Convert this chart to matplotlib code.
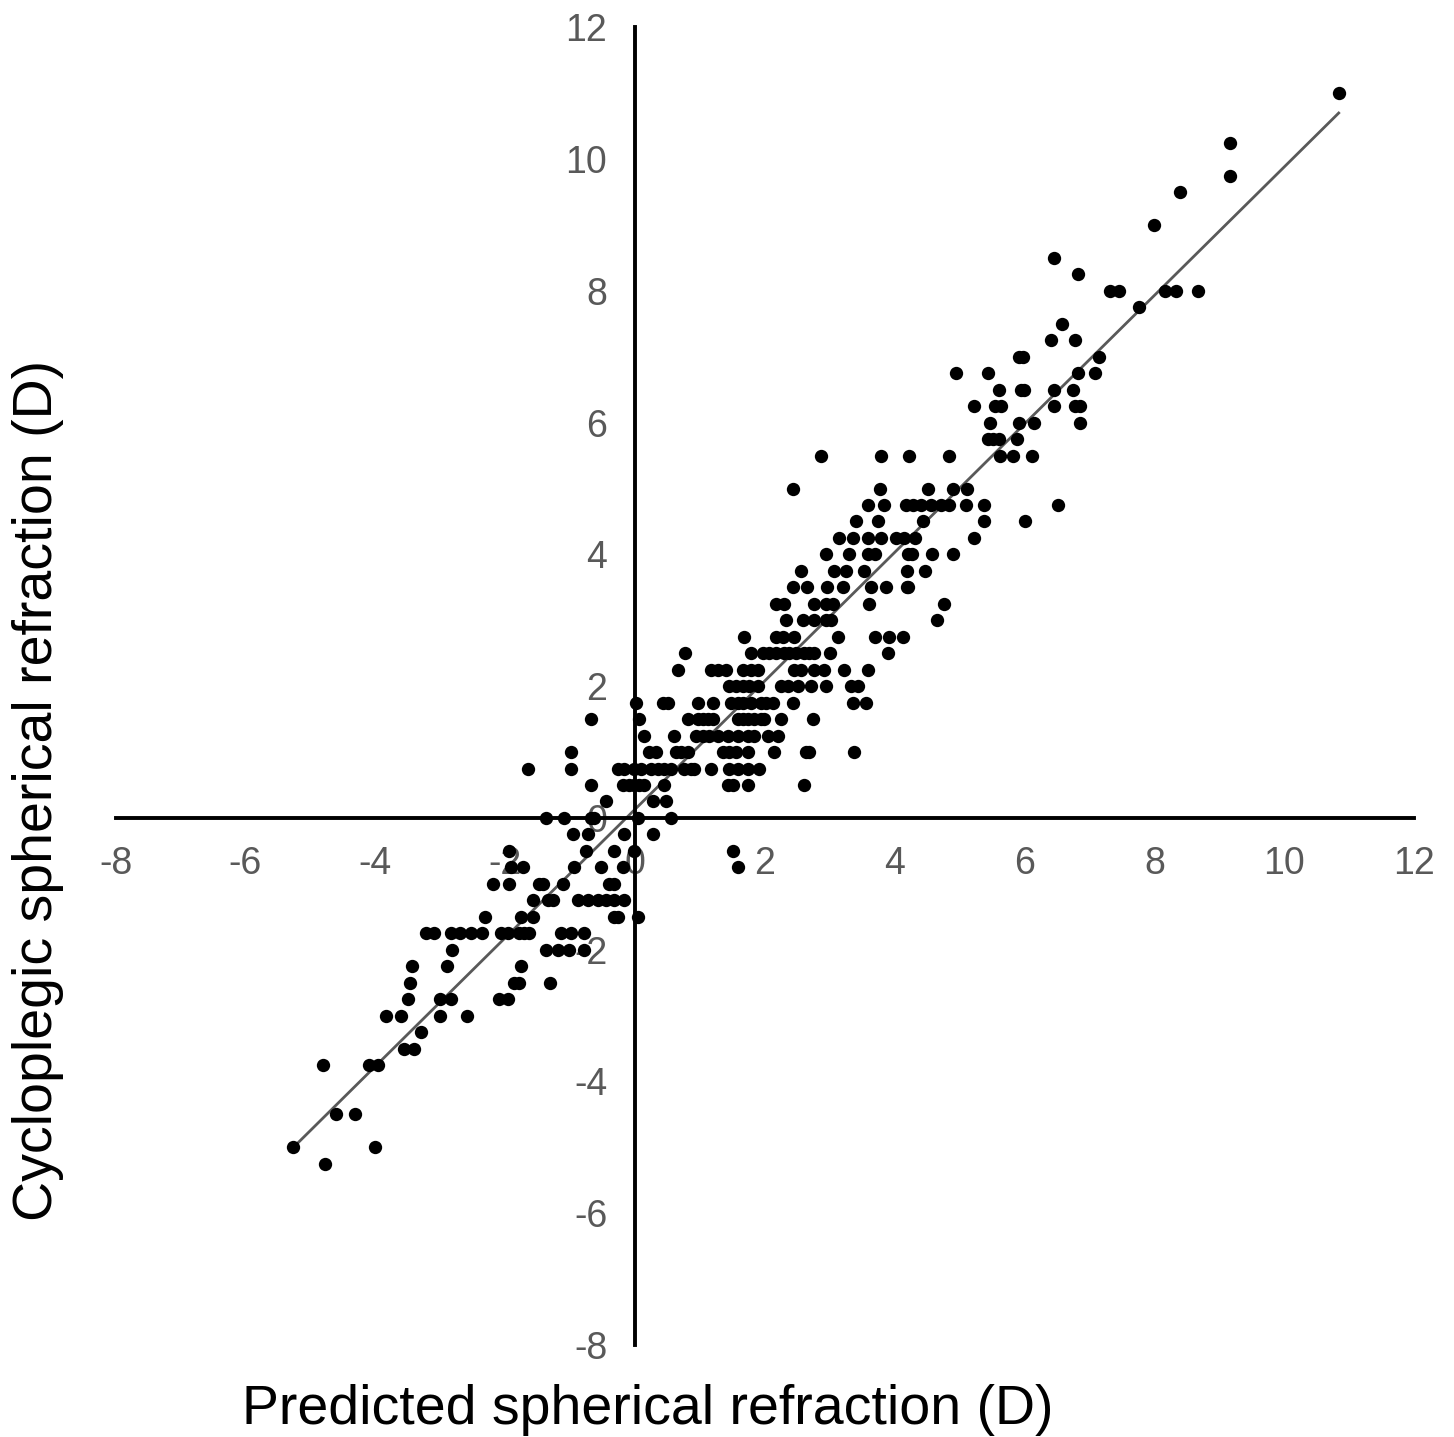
import matplotlib
matplotlib.use("Agg")
import matplotlib.pyplot as plt

# predicted vs cycloplegic spherical refraction (D)
pred = [
    10.84,
    9.16,
    9.16,
    8.40,
    8.00,
    6.46,
    6.83,
    7.31, 7.45, 8.17, 8.34, 8.67,
    7.77,
    6.58,
    6.41, 6.78,
    5.91, 5.98, 7.15,
    4.95, 5.44, 6.83, 7.08,
    5.61, 5.95, 6.00, 6.45, 6.75,
    5.23, 5.54, 5.64, 6.46, 6.78, 6.85,
    5.47, 5.92, 6.14, 6.86,
    5.44, 5.52, 5.60, 5.89,
    2.87, 3.79, 4.22, 4.83, 5.63, 5.83, 6.11,
    2.44, 3.78, 4.52, 4.90, 5.12,
    3.59, 3.84, 4.18, 4.29, 4.41, 4.56, 4.72, 4.83, 5.10, 5.38, 6.52,
    3.41, 3.75, 4.44, 5.38, 6.01,
    3.15, 3.36, 3.59, 3.79, 4.02, 4.15, 4.32, 5.23,
    2.95, 3.30, 3.59, 3.69, 4.21, 4.26, 4.58, 4.90,
    2.56, 3.07, 3.25, 3.53, 4.19, 4.46,
    2.44, 2.65, 2.96, 3.21, 3.64, 3.87, 4.19, 4.21,
    2.17, 2.30, 2.76, 2.95, 3.05, 3.61, 4.76,
    2.33, 2.59, 2.76, 2.95, 3.02, 4.66,
    1.68, 2.17, 2.28, 2.45, 3.13, 3.69, 3.92, 4.13,
    0.77, 1.79, 1.97, 2.07, 2.17, 2.30, 2.37, 2.48, 2.61, 2.68, 2.76, 3.01, 3.89,
    0.66, 1.17, 1.28, 1.40, 1.67, 1.79, 1.90, 2.45, 2.56, 2.76, 2.91, 3.22, 3.59,
    1.45, 1.56, 1.67, 1.76, 1.90, 2.25, 2.36, 2.51, 2.71, 2.95, 3.33, 3.44,
    0.02, 0.43, 0.51, 0.97, 1.20, 1.48, 1.59, 1.67, 1.79, 1.94, 2.02, 2.13, 2.44, 3.36, 3.56,
    -0.68, 0.06, 0.82, 0.97, 1.05, 1.13, 1.20, 1.59, 1.67, 1.74, 1.83, 1.94, 1.99, 2.25, 2.74,
    0.14, 0.60, 0.94, 1.05, 1.14, 1.28, 1.43, 1.59, 1.74, 1.83, 2.05, 2.20,
    -0.99, 0.22, 0.32, 0.63, 0.71, 0.82, 1.36, 1.45, 1.56, 1.74, 2.14, 2.64, 2.68, 3.38,
    -1.65, -0.99, -0.26, -0.17, -0.02, 0.09, 0.25, 0.35, 0.45, 0.55, 0.76, 0.86, 0.91, 1.17, 1.45, 1.59, 1.74, 1.91,
    -0.68, -0.19, -0.09, -0.02, 0.06, 0.14, 0.45, 1.43, 1.51, 1.74, 2.61,
    -0.45, 0.28, 0.48,
    -1.37, -1.09, -0.68, -0.63, 0.05, 0.55,
    -0.96, -0.72, -0.17, 0.28,
    -1.94, -0.76, -0.32, -0.02, 1.51,
    -1.91, -1.73, -0.94, -0.52, -0.19, 1.59,
    -2.19, -1.94, -1.48, -1.42, -1.11, -0.40, -0.32,
    -1.57, -1.34, -1.26, -0.88, -0.72, -0.57, -0.45, -0.32, -0.17,
    -2.31, -1.76, -1.57, -0.32, -0.26, 0.05,
    -3.22, -3.10, -2.84, -2.70, -2.53, -2.36, -2.07, -1.96, -1.79, -1.71, -1.63, -1.14, -0.99, -0.79,
    -2.82, -1.37, -1.19, -1.02, -0.79,
    -3.44, -2.90, -1.76,
    -3.47, -1.87, -1.79, -1.31,
    -3.50, -3.01, -2.84, -2.10, -1.96,
    -3.84, -3.61, -3.01, -2.59,
    -3.30,
    -3.56, -3.41,
    -4.81, -4.10, -3.96,
    -4.60, -4.32,
    -5.26, -4.01,
    -4.78,
]

cyclo = [
    11.0,
    10.25,
    9.75,
    9.5,
    9.0,
    8.5,
    8.25,
    8.0, 8.0, 8.0, 8.0, 8.0,
    7.75,
    7.5,
    7.25, 7.25,
    7.0, 7.0, 7.0,
    6.75, 6.75, 6.75, 6.75,
    6.5, 6.5, 6.5, 6.5, 6.5,
    6.25, 6.25, 6.25, 6.25, 6.25, 6.25,
    6.0, 6.0, 6.0, 6.0,
    5.75, 5.75, 5.75, 5.75,
    5.5, 5.5, 5.5, 5.5, 5.5, 5.5, 5.5,
    5.0, 5.0, 5.0, 5.0, 5.0,
    4.75, 4.75, 4.75, 4.75, 4.75, 4.75, 4.75, 4.75, 4.75, 4.75, 4.75,
    4.5, 4.5, 4.5, 4.5, 4.5,
    4.25, 4.25, 4.25, 4.25, 4.25, 4.25, 4.25, 4.25,
    4.0, 4.0, 4.0, 4.0, 4.0, 4.0, 4.0, 4.0,
    3.75, 3.75, 3.75, 3.75, 3.75, 3.75,
    3.5, 3.5, 3.5, 3.5, 3.5, 3.5, 3.5, 3.5,
    3.25, 3.25, 3.25, 3.25, 3.25, 3.25, 3.25,
    3.0, 3.0, 3.0, 3.0, 3.0, 3.0,
    2.75, 2.75, 2.75, 2.75, 2.75, 2.75, 2.75, 2.75,
    2.5, 2.5, 2.5, 2.5, 2.5, 2.5, 2.5, 2.5, 2.5, 2.5, 2.5, 2.5, 2.5,
    2.25, 2.25, 2.25, 2.25, 2.25, 2.25, 2.25, 2.25, 2.25, 2.25, 2.25, 2.25, 2.25,
    2.0, 2.0, 2.0, 2.0, 2.0, 2.0, 2.0, 2.0, 2.0, 2.0, 2.0, 2.0,
    1.75, 1.75, 1.75, 1.75, 1.75, 1.75, 1.75, 1.75, 1.75, 1.75, 1.75, 1.75, 1.75, 1.75, 1.75,
    1.5, 1.5, 1.5, 1.5, 1.5, 1.5, 1.5, 1.5, 1.5, 1.5, 1.5, 1.5, 1.5, 1.5, 1.5,
    1.25, 1.25, 1.25, 1.25, 1.25, 1.25, 1.25, 1.25, 1.25, 1.25, 1.25, 1.25,
    1.0, 1.0, 1.0, 1.0, 1.0, 1.0, 1.0, 1.0, 1.0, 1.0, 1.0, 1.0, 1.0, 1.0,
    0.75, 0.75, 0.75, 0.75, 0.75, 0.75, 0.75, 0.75, 0.75, 0.75, 0.75, 0.75, 0.75, 0.75, 0.75, 0.75, 0.75, 0.75,
    0.5, 0.5, 0.5, 0.5, 0.5, 0.5, 0.5, 0.5, 0.5, 0.5, 0.5,
    0.25, 0.25, 0.25,
    0.0, 0.0, 0.0, 0.0, 0.0, 0.0,
    -0.25, -0.25, -0.25, -0.25,
    -0.5, -0.5, -0.5, -0.5, -0.5,
    -0.75, -0.75, -0.75, -0.75, -0.75, -0.75,
    -1.0, -1.0, -1.0, -1.0, -1.0, -1.0, -1.0,
    -1.25, -1.25, -1.25, -1.25, -1.25, -1.25, -1.25, -1.25, -1.25,
    -1.5, -1.5, -1.5, -1.5, -1.5, -1.5,
    -1.75, -1.75, -1.75, -1.75, -1.75, -1.75, -1.75, -1.75, -1.75, -1.75, -1.75, -1.75, -1.75, -1.75,
    -2.0, -2.0, -2.0, -2.0, -2.0,
    -2.25, -2.25, -2.25,
    -2.5, -2.5, -2.5, -2.5,
    -2.75, -2.75, -2.75, -2.75, -2.75,
    -3.0, -3.0, -3.0, -3.0,
    -3.25,
    -3.5, -3.5,
    -3.75, -3.75, -3.75,
    -4.5, -4.5,
    -5.0, -5.0,
    -5.25,
]

assert len(pred) == len(cyclo)

# trendline as drawn in the figure
fit_slope = 0.975
fit_intercept = 0.13
ticks = list(range(-8, 13, 2))

plt.rcParams['font.family'] = ['Liberation Sans', 'DejaVu Sans']
plt.rcParams['axes.unicode_minus'] = False

fig = plt.figure(figsize=(14.54, 14.37), dpi=100)
ax = fig.add_axes([0.0795, 0.064, 0.893, 0.917])

ax.scatter(pred, cyclo, s=92, c='black', linewidths=0, zorder=3)

x0, x1 = min(pred), max(pred)
ax.plot([x0, x1], [fit_slope * x0 + fit_intercept, fit_slope * x1 + fit_intercept],
        color='#595959', lw=2.0, zorder=2)

ax.set_xlim(-8, 12)
ax.set_ylim(-8, 12)
ax.set_xticks(ticks)
ax.set_yticks(ticks)

# axes cross at the origin
for side in ['left', 'bottom']:
    ax.spines[side].set_position(('data', 0))
    ax.spines[side].set_linewidth(2.8)
    ax.spines[side].set_color('black')
for side in ['top', 'right']:
    ax.spines[side].set_visible(False)

ax.tick_params(axis='both', length=0, labelsize=27, labelcolor='#595959')
ax.tick_params(axis='x', pad=20)
ax.tick_params(axis='y', pad=20)

fig.text(648 / 1454, 1 - 1410 / 1437, 'Predicted spherical refraction (D)',
         ha='center', va='center', fontsize=40)
fig.text(38 / 1454, 1 - 790 / 1437, 'Cycloplegic spherical refraction (D)',
         ha='center', va='center', rotation=90, fontsize=40)

fig.savefig('out.png', dpi=100)
